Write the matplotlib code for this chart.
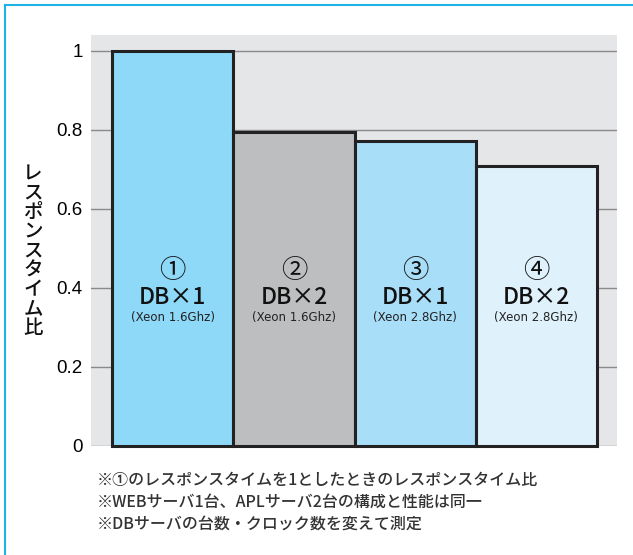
import matplotlib.pyplot as plt
from matplotlib.lines import Line2D

plt.rcParams['font.family'] = ['Noto Sans CJK JP', 'DejaVu Sans']

# response time relative to configuration 1
marks = ['①', '②', '③', '④']
configs = ['DB×1', 'DB×2', 'DB×1', 'DB×2']
cpus = ['(Xeon 1.6Ghz)', '(Xeon 1.6Ghz)', '(Xeon 2.8Ghz)', '(Xeon 2.8Ghz)']
ratios = [1.0, 0.795, 0.773, 0.708]
colors = ['#8ED8F8', '#BDBEC0', '#A9DEF9', '#DFF1FB']
yticks = [0, 0.2, 0.4, 0.6, 0.8, 1]
ytick_labels = ['0', '0.2', '0.4', '0.6', '0.8', '1']
ylabel = 'レスポンスタイム比'
notes = [
    '※①のレスポンスタイムを1としたときのレスポンスタイム比',
    '※WEBサーバ1台、APLサーバ2台の構成と性能は同一',
    '※DBサーバの台数・クロック数を変えて測定',
]

W, H = 633, 555
fig = plt.figure(figsize=(W / 100, H / 100), dpi=100)
ax = fig.add_axes([91 / W, 1 - 446 / H, 526 / W, 411 / H])
ax.set_facecolor('#E5E6E8')

x = list(range(len(ratios)))
ax.bar(x, ratios, width=1.0, color=colors, edgecolor='#222222',
       linewidth=2.2, zorder=3, clip_on=False)

for i in x:
    ax.text(i, 0.445, marks[i], ha='center', va='center', fontsize=19,
            color='#111111', zorder=4)
    ax.text(i, 0.377, configs[i], ha='center', va='center', fontsize=16.5,
            weight='medium', color='#111111', zorder=4)
    ax.text(i, 0.325, cpus[i], ha='center', va='center', fontsize=8.5,
            color='#222222', family=['DejaVu Sans'], zorder=4)

ax.set_xlim(-0.674, 3.665)
ax.set_ylim(0, 1.04)
ax.set_xticks([])
ax.set_yticks(yticks)
ax.set_yticklabels(ytick_labels, family=['Liberation Sans'], fontsize=13.5)
ax.tick_params(axis='y', length=0, pad=6)
ax.grid(axis='y', color='#8A8A8A', linewidth=1.0, zorder=1)
for s in ax.spines.values():
    s.set_visible(False)

# stacked vertical axis title
fig.text(33 / W, 1 - 251 / H, '\n'.join(ylabel), ha='center', va='center',
         fontsize=14, weight='medium', linespacing=1.02, color='#111111')

for k, note in enumerate(notes):
    fig.text(97 / W, 1 - (481 + 21.5 * k) / H, note, ha='left', va='center',
             fontsize=11.5, weight='medium', color='#333333')

# cyan frame along top and left edges
fig.add_artist(Line2D([5 / W, 1], [1 - 4.5 / H, 1 - 4.5 / H],
                      transform=fig.transFigure, color='#1EB4E6', linewidth=1.5))
fig.add_artist(Line2D([5 / W, 5 / W], [0, 1 - 4.5 / H],
                      transform=fig.transFigure, color='#1EB4E6', linewidth=1.5))

fig.savefig('out.png', dpi=100)
